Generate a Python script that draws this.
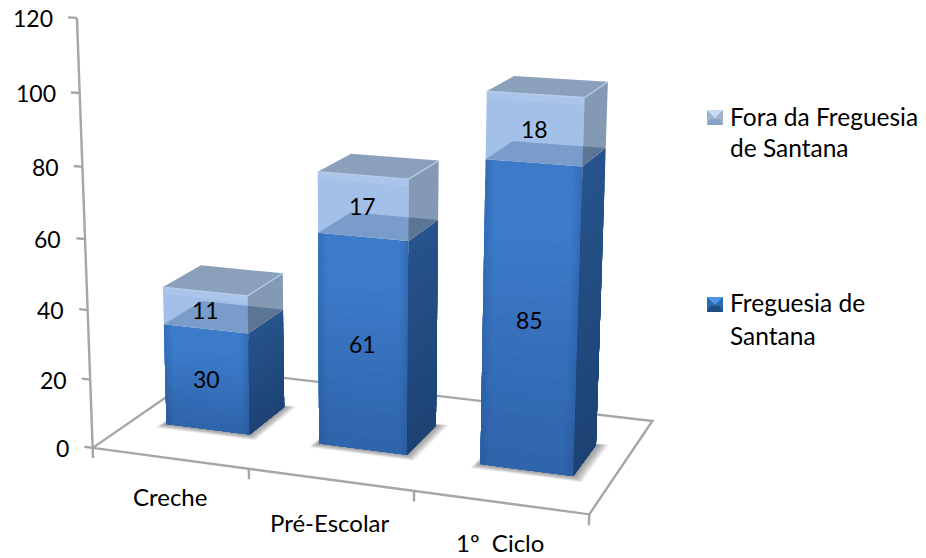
import numpy as np, plotly.graph_objects as go

categories = ["Creche", "Pré-Escolar", "1º  Ciclo"]
freguesia = [30, 61, 85]
fora = [11, 17, 18]
z_ticks = [0, 20, 40, 60, 80, 100, 120]
legend_lines = [["Fora da Freguesia", "de Santana"], ["Freguesia de", "Santana"]]
W, H = 926, 558

# Pinhole camera taking (category, depth, value) to canvas position
CAM = np.array([[149.2746858, 140.4678285, -0.1672087, 92.6829814],
                [7.9672336, -32.3100562, -3.5916592, 447.8748363],
                [-0.0275774, 0.1265242, -0.0004673, 1.0]])
half_w, y_front, y_back = 0.2756, 0.3291, 0.6659


def project(x, y, z):
    h = CAM @ np.array([x, y, z, 1.0])
    return h[0] / h[2], h[1] / h[2]


def lerp(a, b, t):
    return tuple(a[i] + (b[i] - a[i]) * t for i in range(3))


def rgb(c):
    return "rgb(%d,%d,%d)" % tuple(round(v) for v in c)


traces = []


def poly(points, color):
    pp = [project(*p) for p in points]
    pp.append(pp[0])
    traces.append(go.Scatter(x=[a for a, _ in pp], y=[b for _, b in pp], mode="lines", fill="toself", fillcolor=color,
                             line=dict(color=color, width=0), hoverinfo="skip", showlegend=False))


def polyline(points, color="#a6a6a6", width=2.4):
    pp = [project(*p) for p in points]
    traces.append(go.Scatter(x=[a for a, _ in pp], y=[b for _, b in pp], mode="lines",
                             line=dict(color=color, width=width), hoverinfo="skip", showlegend=False))


# floor, value axis and tick marks
polyline([(0, 0, 0), (3, 0, 0), (3, 1, 0), (0, 1, 0), (0, 0, 0)])
polyline([(0, 0, 0), (0, 0, 120)])
for t in z_ticks:
    polyline([(0, 0, t), (-0.055, 0, t)])
for t in range(4):
    polyline([(t, 0, 0), (t, 0, -3)])


def front_dark(v):
    return lerp((46, 100, 170), (60, 122, 202), min(1, v * 1.3))


def side_dark(v):
    return lerp((28, 66, 115), (38, 84, 140), v)


STRIPS = 16
for n in range(3):
    x0, x1 = n + .5 - half_w, n + .5 + half_w
    lo, hi = freguesia[n], freguesia[n] + fora[n]
    # soft contact shadow, built from nested translucent outlines
    for s in range(10, 0, -1):
        g = s / 10
        poly([(x0 - .035 * g, y_front - .05 * g, 0), (x1 + .07 * g, y_front - .05 * g, 0),
              (x1 + .07 * g, y_back + .02 * g, 0), (x0 - .035 * g, y_back + .02 * g, 0)], "rgba(80,80,80,0.075)")
    # vertical shading: each strip reaches the floor and the next one paints over it
    for a in range(STRIPS - 1, -1, -1):
        v1 = (a + 1) / STRIPS
        vm = (a + .5) / STRIPS
        poly([(x0, y_front, 0), (x1, y_front, 0), (x1, y_front, lo * v1), (x0, y_front, lo * v1)], rgb(front_dark(vm)))
        poly([(x1, y_front, 0), (x1, y_back, 0), (x1, y_back, lo * v1), (x1, y_front, lo * v1)], rgb(side_dark(vm)))
    # darker rims down both sides of the front face
    for b, alpha in enumerate((0.22, 0.13, 0.06)):
        d = (b + 1) * half_w * 0.06
        e = b * half_w * 0.06
        for xa, xb in ((x0 + e, x0 + d), (x1 - d, x1 - e)):
            poly([(xa, y_front, 0), (xb, y_front, 0), (xb, y_front, lo), (xa, y_front, lo)], f"rgba(30,70,125,{alpha})")
    poly([(x0, y_front, lo), (x1, y_front, lo), (x1, y_back, lo), (x0, y_back, lo)], rgb((164, 175, 189)))
    poly([(x0, y_front, lo), (x1, y_front, lo), (x1, y_front, hi), (x0, y_front, hi)], "rgba(87,140,213,0.55)")
    poly([(x1, y_front, lo), (x1, y_back, lo), (x1, y_back, hi), (x1, y_front, hi)], "rgba(31,69,116,0.55)")
    poly([(x0, y_front, hi), (x1, y_front, hi), (x1, y_back, hi), (x0, y_back, hi)], "rgba(44,82,129,0.55)")
    # pale bevel where the glass front meets its top
    band = min(2.0, 0.18 * (hi - lo))
    poly([(x0, y_front, hi - band), (x1, y_front, hi - band), (x1, y_front, hi), (x0, y_front, hi)], "rgba(255,255,255,0.09)")
    polyline([(x0, y_front, hi), (x1, y_front, hi), (x1, y_back, hi)], "rgba(185,208,235,0.85)", 1.4)

LABEL = dict(family="Lato", size=24, color="#000000")
DIGIT = dict(family="Lato", size=23, color="#000000")
ann = []
for t in z_ticks:
    px, py = project(-0.055, 0, t)
    ann.append(dict(x=px, y=py, text=str(t), showarrow=False, xanchor="right", yanchor="middle",
                    xshift=-13, yshift=-1, font=DIGIT))
name_lift = [-38, -43, -40]
for n, name in enumerate(categories):
    px, py = project(n + .5, 0, 0)
    ann.append(dict(x=px, y=py, text=name, showarrow=False, yanchor="middle", yshift=name_lift[n], font=LABEL))
    px, py = project(n + .5, y_front, freguesia[n] / 2)
    ann.append(dict(x=px, y=py, text=str(freguesia[n]), showarrow=False, yanchor="middle", font=DIGIT))
    px, py = project(n + .5, y_front, freguesia[n] + fora[n] / 2)
    ann.append(dict(x=px, y=py, text=str(fora[n]), showarrow=False, yanchor="middle", font=DIGIT))

shapes = []
for (sx, sy, c1, c2, c3) in [(707, 110, "#a0b4cc", "#c8dbf2", "#87a3c6"), (707, 297, "#2a6bb0", "#4f94e6", "#1f4e85")]:
    shapes.append(dict(type="rect", x0=sx, x1=sx + 16, y0=sy, y1=sy + 15, fillcolor=c1, line_width=0))
    shapes.append(dict(type="path", path=f"M{sx},{sy} L{sx+16},{sy} L{sx+8},{sy+8} Z", fillcolor=c2, line_width=0))
    shapes.append(dict(type="path", path=f"M{sx},{sy+15} L{sx+16},{sy+15} L{sx+13},{sy+9} L{sx+3},{sy+9} Z", fillcolor=c3, line_width=0))
for ys, block in zip(([116, 147], [302, 335]), legend_lines):
    for yy, t in zip(ys, block):
        ann.append(dict(x=728, y=yy, text=t, showarrow=False, xanchor="left", yanchor="middle",
                        font=dict(family="Lato", size=24.5, color="#000000")))

fig = go.Figure(traces)
fig.update_layout(width=W, height=H, margin=dict(l=0, r=0, t=0, b=0, pad=0), paper_bgcolor="white", plot_bgcolor="white",
                  showlegend=False,
                  xaxis=dict(range=[0, W], visible=False, fixedrange=True),
                  yaxis=dict(range=[H, 0], visible=False, fixedrange=True),
                  shapes=shapes, annotations=ann)
fig.write_html("out.html")
